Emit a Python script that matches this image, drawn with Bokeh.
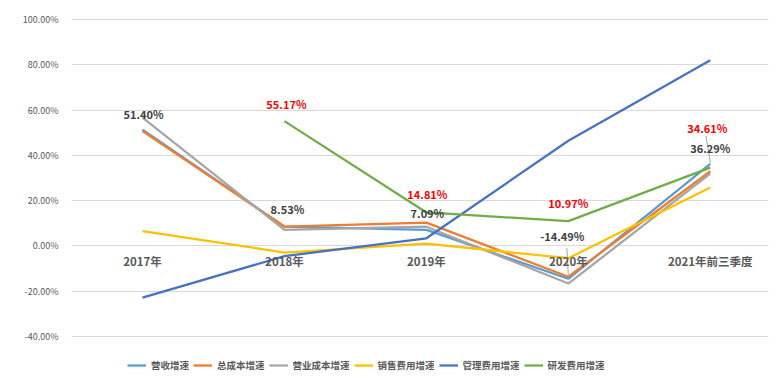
import math
from bokeh.plotting import figure
from bokeh.models import ColumnDataSource, Range1d, FixedTicker, PrintfTickFormatter, Legend, LegendItem
from bokeh.core.properties import value
from bokeh.embed import file_html
from bokeh.resources import INLINE

nan = float("nan")

categories = ["2017年", "2018年", "2019年", "2020年", "2021年前三季度"]
series_names = ["营收增速", "总成本增速", "营业成本增速", "销售费用增速", "管理费用增速", "研发费用增速"]
revenue = [51.40, 8.53, 7.09, -14.49, 36.29]
total_cost = [50.8, 8.6, 10.3, -13.6, 33.0]
op_cost = [56.7, 7.1, 8.5, -16.6, 32.0]
selling = [6.6, -2.9, 1.0, -5.4, 25.8]
admin = [-22.8, -4.5, 3.4, 46.5, 82.0]
rnd = [nan, 55.17, 14.81, 10.97, 34.61]
y_ticks = [-40, -20, 0, 20, 40, 60, 80, 100]

colors = ["#5B9BD5", "#ED7D31", "#A5A5A5", "#FFC000", "#4472C4", "#70AD47"]
FONT = "Noto Sans CJK SC"

xs = [i + 0.5 for i in range(len(categories))]

p = figure(width=775, height=382, output_backend="svg", toolbar_location=None,
           x_range=Range1d(0, 4.91), y_range=Range1d(-60.3, 101.8),
           x_axis_location=None, min_border_left=71, min_border_right=7,
           min_border_top=15, min_border_bottom=0)
p.outline_line_color = None
p.background_fill_color = "white"
p.border_fill_color = "white"
p.xgrid.visible = False
p.ygrid.grid_line_color = "#D9D9D9"
p.ygrid.grid_line_width = 1

p.yaxis.ticker = FixedTicker(ticks=y_ticks)
p.yaxis.formatter = PrintfTickFormatter(format="%.2f%%")
p.yaxis.axis_line_color = None
p.yaxis.major_tick_line_color = None
p.yaxis.minor_tick_line_color = None
p.yaxis.major_label_text_font = FONT
p.yaxis.major_label_text_font_size = "9px"
p.yaxis.major_label_text_color = "#595959"
p.yaxis.major_label_standoff = 7

all_series = [revenue, total_cost, op_cost, selling, admin, rnd]
items = []
for name, vals, c in zip(series_names, all_series, colors):
    r = p.line(xs, vals, line_color=c, line_width=2.25)
    items.append(LegendItem(label=name, renderers=[r]))

# leader lines from the moved labels to their points (2020 and 2021)
lead_idx = [3, 4]
lead_bottom = [1.2, 0.4]   # data-unit gap above the point
lead_top = [13.6, 12.3]
lead_dx = [-0.01, -0.03]
lead_src = ColumnDataSource(dict(
    x0=[xs[i] for i in lead_idx],
    y0=[revenue[i] + b for i, b in zip(lead_idx, lead_bottom)],
    x1=[xs[i] + d for i, d in zip(lead_idx, lead_dx)],
    y1=[revenue[i] + t for i, t in zip(lead_idx, lead_top)]))
p.segment("x0", "y0", "x1", "y1", source=lead_src, line_color="#A6A6A6", line_width=1)

# category labels along the zero line
cat_src = ColumnDataSource(dict(x=xs, y=[0] * len(xs), t=categories))
p.text("x", "y", text="t", source=cat_src, text_font=value(FONT), text_font_style="bold",
       text_font_size="11.5px", text_color="#595959", text_align="center",
       text_baseline="middle", y_offset=15)

# revenue data labels
rev_src = ColumnDataSource(dict(x=xs, y=revenue, t=["%.2f%%" % v for v in revenue],
                                dx=[1, 3, 1, -6, 0], dy=[-16, -18, -17, -43, -16]))
p.text("x", "y", text="t", source=rev_src, text_font=value(FONT), text_font_style="bold",
       text_font_size="11px", text_color="#404040", text_align="center",
       text_baseline="middle", x_offset="dx", y_offset="dy")

# R&D data labels
rx = [x for x, v in zip(xs, rnd) if not math.isnan(v)]
rv = [v for v in rnd if not math.isnan(v)]
rnd_src = ColumnDataSource(dict(x=rx, y=rv, t=["%.2f%%" % v for v in rv],
                                dx=[2, 1, 0, -3], dy=[-17, -18, -18, -40]))
p.text("x", "y", text="t", source=rnd_src, text_font=value(FONT), text_font_style="bold",
       text_font_size="11px", text_color="#FF0000", text_align="center",
       text_baseline="middle", x_offset="dx", y_offset="dy")

legend = Legend(items=items, orientation="horizontal", location=(56, 10),
                label_text_font=FONT, label_text_font_size="9.5px", label_text_color="#595959",
                label_text_font_style="bold",
                glyph_width=19, glyph_height=12, label_height=12, label_standoff=5, spacing=4,
                padding=0, margin=0, border_line_color=None, background_fill_alpha=0)
p.add_layout(legend, "center")

open("out.html", "w").write(file_html(p, INLINE))
